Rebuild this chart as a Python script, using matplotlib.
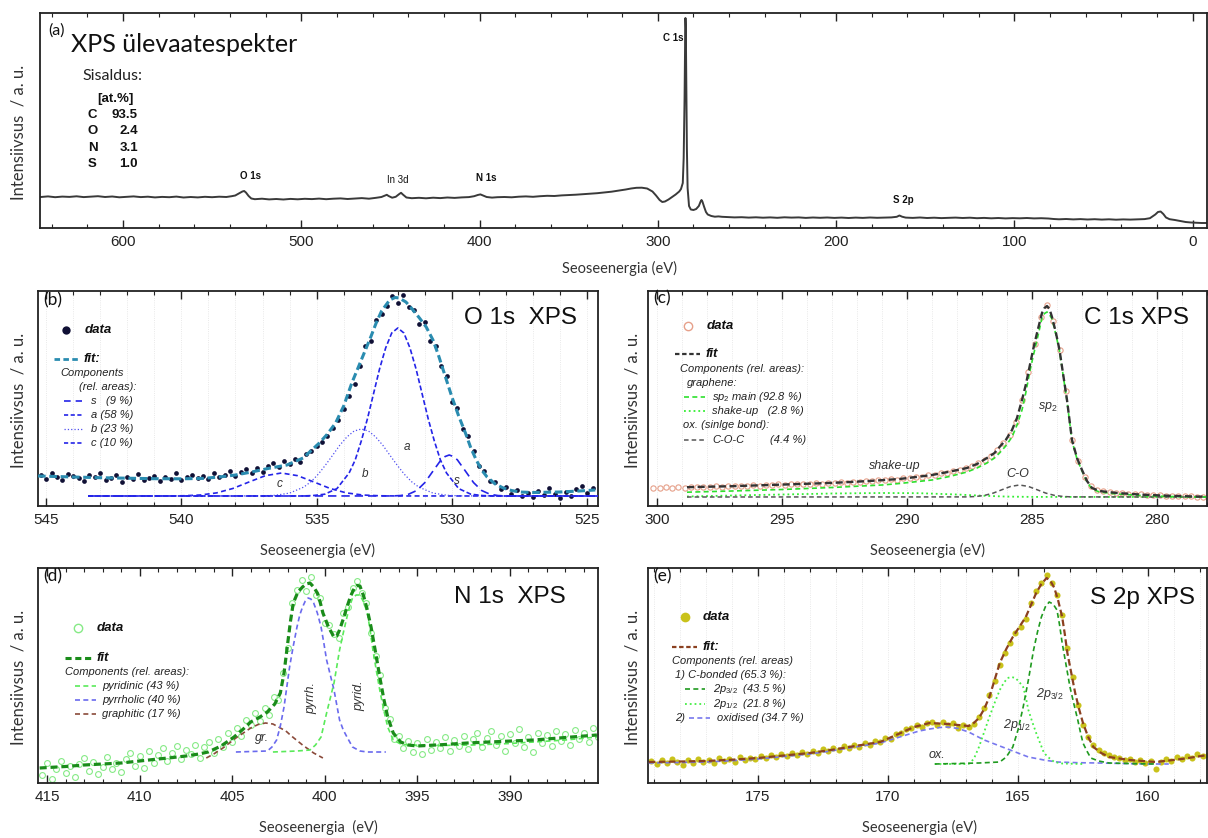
import numpy as np
import matplotlib
matplotlib.use('Agg')
import matplotlib.pyplot as plt
from matplotlib.lines import Line2D
from matplotlib.ticker import MultipleLocator

plt.rcParams['font.family'] = ['Liberation Sans', 'DejaVu Sans']
plt.rcParams['mathtext.fontset'] = 'custom'
plt.rcParams['mathtext.rm'] = 'Liberation Sans'
plt.rcParams['mathtext.it'] = 'Liberation Sans:italic'
plt.rcParams['mathtext.bf'] = 'Liberation Sans:bold'

# ---------------- DATA ----------------
# (a) survey spectrum
survey_be = [646, 642, 638, 634, 630, 626, 622, 618, 614, 610,
             606, 602, 598, 594, 590, 586, 582, 578, 574, 570,
             566, 562, 558, 554, 550, 546, 542, 539, 537, 535,
             533, 532, 531, 529.5, 528, 526, 522, 518, 514, 510,
             506, 502, 498, 494, 490, 486, 482, 478, 474, 470,
             466, 462, 458, 455, 453, 452, 451, 449, 447, 445,
             444, 443, 441, 438, 434, 430, 426, 422, 418, 414,
             410, 406, 403, 401, 399.5, 398, 396, 393, 390, 386,
             382, 378, 374, 370, 366, 362, 358, 354, 350, 346,
             342, 338, 334, 330, 326, 322, 318, 315, 312, 309,
             306, 303, 301, 299, 297.5, 296, 294, 292, 290, 288,
             287, 286, 285.5, 285, 284.7, 284.5, 284.3, 284.0, 283.7, 283.3,
             282.5, 281.5, 280, 278.5, 277, 276, 275.5, 275, 274, 273,
             272, 270, 268, 266, 264, 261, 257, 253, 249, 245,
             241, 237, 233, 229, 225, 221, 217, 213, 209, 205,
             201, 197, 193, 189, 185, 181, 177, 173, 169, 166,
             164.5, 163, 161, 157, 153, 149, 145, 141, 137, 133,
             129, 125, 121, 117, 113, 109, 105, 101, 97, 93,
             89, 85, 81, 78, 75, 71, 67, 63, 59, 55,
             51, 47, 43, 39, 35, 31, 27, 24, 21, 19.5,
             18, 16.5, 15, 13, 10, 7, 4, 1, -2, -5,
             -8]
survey_int = [31.0, 31.6, 30.8, 31.4, 31.1, 31.7, 30.9, 31.3, 31.8, 31.0,
              31.5, 30.7, 31.2, 31.6, 30.9, 31.3, 30.6, 31.1, 30.8, 31.4,
              30.5, 31.0, 30.6, 31.2, 30.8, 31.3, 31.0, 31.8, 32.5, 34.5,
              36.5, 37.0, 35.5, 32.0, 29.5, 28.8, 29.3, 28.6, 29.0, 28.5,
              29.1, 28.7, 29.2, 28.9, 29.4, 28.8, 29.3, 29.6, 29.0, 29.5,
              29.9, 29.3, 30.2, 31.0, 32.5, 33.2, 32.0, 30.3, 31.2, 34.0,
              35.2, 33.5, 30.5, 29.8, 30.2, 29.7, 30.3, 29.9, 30.5, 30.1,
              30.6, 30.9, 31.8, 33.0, 33.6, 32.5, 31.0, 30.4, 30.8, 31.0,
              30.7, 31.3, 31.6, 31.2, 31.8, 32.2, 32.0, 32.6, 32.9, 33.3,
              33.8, 34.2, 34.8, 35.5, 36.3, 37.4, 38.5, 39.5, 40.2, 40.3,
              39.5, 36.5, 32.5, 28.0, 26.0, 26.5, 28.5, 31.0, 33.5, 36.5,
              39.0, 45.0, 70, 130, 185, 210, 200, 140, 80, 40,
              22.0, 18.5, 18.0, 19.0, 22.0, 26.5, 28.0, 26.5, 21.0, 16.0,
              13.5, 12.0, 11.3, 11.6, 11.2, 10.9, 10.6, 10.8, 10.4, 10.7,
              10.3, 10.6, 10.2, 10.7, 10.4, 10.6, 10.1, 10.5, 10.2, 10.5,
              10.1, 10.4, 10.0, 10.4, 10.1, 10.5, 10.2, 10.4, 10.6, 11.2,
              12.5, 11.3, 10.4, 10.1, 10.5, 10.0, 10.3, 9.9, 10.2, 10.4,
              10.0, 10.3, 9.8, 10.1, 9.7, 10.0, 9.6, 9.9, 9.7, 10.0,
              9.6, 9.8, 9.5, 9.0, 8.7, 9.0, 8.6, 8.9, 8.5, 8.8,
              8.4, 8.7, 8.3, 8.6, 8.4, 8.7, 8.9, 9.8, 13.5, 16.0,
              16.5, 14.0, 10.5, 8.8, 8.0, 7.0, 6.0, 5.5, 5.2, 5.0,
              5.0]
survey_peak_labels = ["O 1s", "In 3d", "N 1s", "C 1s", "S 2p"]
composition_el = ["C", "O", "N", "S"]
composition_at = ["93.5", "2.4", "3.1", "1.0"]

# (b) O 1s
o1s_data_start, o1s_data_end = 545.2, 524.8
o1s_data = [31, 27, 33, 29, 26, 32, 30, 28, 25, 31,
            29, 33, 26, 28, 31, 24, 29, 27, 32, 26,
            28, 30, 25, 29, 27, 33, 26, 29, 31, 28,
            30, 27, 33, 29, 31, 35, 30, 34, 37, 33,
            38, 34, 40, 43, 39, 45, 42, 47, 44, 52,
            55, 60, 64, 70, 78, 86, 97, 110, 122, 140,
            160, 165, 186, 192, 200, 210, 203, 211, 199, 196,
            182, 184, 165, 160, 140, 130, 104, 98, 77, 70,
            55, 40, 35, 25, 24, 17, 19, 12, 16, 10,
            13, 9, 15, 11, 18, 12, 8, 14, 10, 17,
            20, 13, 18]
o1s_fit = [(545.3, 30), (544, 29), (543, 28.3), (542, 27.8), (541, 27.3), (540, 27.2), (539.2, 27.6),
           (538.6, 29), (538, 31), (537.4, 34), (536.8, 37.5), (536.1, 41), (535.5, 48), (534.9, 63),
           (534.6, 72), (534.3, 83), (534.0, 100), (533.7, 123), (533.35, 146), (533.0, 169), (532.8, 183),
           (532.6, 195), (532.3, 206), (532.1, 208.5), (531.95, 208), (531.7, 204), (531.5, 198),
           (531.2, 188), (530.95, 179), (530.7, 166), (530.5, 151), (530.25, 130), (530.0, 109),
           (529.75, 90), (529.5, 73), (529.3, 58), (529.1, 46), (528.9, 36), (528.7, 29), (528.4, 22),
           (528.1, 18), (527.8, 15.5), (527.5, 14), (527, 13.5), (526, 14), (525.3, 15), (524.7, 16)]
o1s_s = [(543.45, 10), (532.2, 10.05), (531.9, 10.45), (531.6, 11.8), (531.3, 15.5), (531.0, 23.4),
         (530.7, 34.9), (530.4, 46.2), (530.25, 49.5), (530.1, 51), (529.95, 49.5), (529.8, 46.2),
         (529.5, 34.9), (529.2, 23.4), (528.9, 15.5), (528.6, 11.8), (528.3, 10.45), (528.0, 10.05), (524.6, 10)]
o1s_a = [(543.45, 10), (535.6, 10), (535.15, 10.4), (534.7, 11.8), (534.25, 17.4), (533.8, 33),
         (533.575, 46), (533.35, 65), (533.125, 87), (532.9, 112), (532.675, 137), (532.45, 158),
         (532.225, 173), (532.0, 178), (531.775, 173), (531.55, 158), (531.325, 137), (531.1, 112),
         (530.875, 87), (530.65, 65), (530.425, 46), (530.2, 33), (529.75, 17.4), (529.3, 11.8),
         (528.85, 10.4), (528.4, 10), (524.6, 10)]
o1s_b = [(543.45, 10), (537.06, 10.1), (536.53, 10.7), (536.0, 12.9), (535.47, 19.0), (535.2, 24.5),
         (534.94, 31.8), (534.68, 40.7), (534.41, 50.7), (534.15, 60.6), (533.88, 69.1), (533.62, 74.9),
         (533.35, 77), (533.08, 74.9), (532.82, 69.1), (532.55, 60.6), (532.29, 50.7), (532.02, 40.7),
         (531.76, 31.8), (531.5, 24.5), (531.23, 19.0), (530.7, 12.9), (530.17, 10.7), (529.64, 10.1), (524.6, 10)]
o1s_c = [(543.45, 10), (540.5, 10.05), (539.9, 10.25), (539.3, 11.0), (538.7, 13.1), (538.1, 17.5),
         (537.5, 24.0), (536.9, 30.3), (536.3, 33.0), (535.7, 30.3), (535.1, 24.0), (534.5, 17.5),
         (533.9, 13.1), (533.3, 11.0), (532.7, 10.25), (532.1, 10.05), (524.6, 10)]

# (c) C 1s
c1s_data_start, c1s_data_end = 300.15, 278.15
c1s_data = [18.4, 17.8, 18.5, 18.0, 18.9, 18.3, 19.1, 18.6, 19.4, 18.8,
            19.6, 19.2, 20.0, 19.5, 20.4, 19.9, 20.8, 20.3, 21.2, 20.7,
            21.6, 21.1, 22.0, 21.5, 22.4, 21.9, 22.8, 22.3, 23.3, 22.8,
            23.8, 23.4, 24.4, 24.0, 25.0, 24.7, 25.8, 25.5, 26.6, 26.4,
            27.6, 27.6, 29.0, 29.2, 30.6, 30.9, 32.6, 33.2, 35.0, 36.2,
            38, 40, 42.5, 46, 50, 56, 63, 71, 84, 106,
            134, 162, 189, 201, 185, 156, 115, 66, 45, 29,
            20, 16, 14.5, 13.7, 13, 12.6, 12.2, 11.8, 11.5, 11.2,
            10.9, 10.6, 10.4, 10.1, 9.9, 9.7, 9.5, 9.4, 9.3]
c1s_fit = [(298.8, 18.8), (297, 19.8), (295, 21.4), (293, 23.1), (291.5, 25), (290.3, 27), (289.5, 29.4),
           (289.0, 31), (288.3, 34.3), (287.6, 38), (287.2, 42), (286.8, 48), (286.5, 53), (286.3, 59),
           (286.05, 66), (285.8, 76), (285.6, 88), (285.4, 106), (285.25, 121), (285.1, 139), (284.95, 157),
           (284.8, 173), (284.7, 183), (284.6, 193), (284.5, 198), (284.4, 200), (284.3, 197), (284.2, 189),
           (284.05, 174), (283.9, 156), (283.75, 131), (283.6, 106), (283.5, 86), (283.4, 66), (283.2, 48),
           (283.0, 36), (282.8, 25), (282.6, 18), (282.3, 15), (281.6, 13), (280.5, 11.2), (279.5, 10.2), (278.0, 9.2)]
c1s_sp2 = [(298.8, 13.8), (297, 15), (295, 16.5), (293, 18.5), (291, 21), (290.3, 22.5), (289.0, 26),
           (288.3, 29.5), (287.6, 34), (287.2, 38), (286.8, 43), (286.5, 48), (286.3, 53), (286.05, 60),
           (285.8, 69), (285.6, 81), (285.4, 96), (285.25, 113), (285.1, 133), (284.95, 150), (284.8, 166),
           (284.7, 177), (284.6, 188), (284.5, 192.5), (284.4, 194), (284.3, 191.5), (284.2, 187), (284.05, 172),
           (283.9, 155), (283.75, 130), (283.6, 105), (283.5, 85), (283.4, 65), (283.2, 47), (283.0, 35),
           (282.8, 24), (282.6, 17), (282.3, 14), (281.6, 12), (280.5, 10.3), (279.5, 9.5), (278.0, 9.0)]
c1s_shake = [(298.8, 9.5), (297, 10.5), (295, 11.5), (293, 12.5), (291, 13), (289.5, 12.8), (288, 11.5),
             (287, 10.3), (286, 9.4), (285, 9.1), (278, 9)]
c1s_coc = [(298.8, 9), (287.6, 9.1), (287.25, 9.5), (286.9, 10.6), (286.55, 12.9), (286.2, 16.3),
           (285.85, 19.6), (285.5, 21), (285.15, 19.6), (284.8, 16.3), (284.45, 12.9), (284.1, 10.6),
           (283.75, 9.5), (283.4, 9.1), (278, 9)]

# (d) N 1s
n1s_data_start, n1s_data_end = 415.25, 385.25
n1s_data = [8, 20, 4, 14, 22, 10, 17, 6, 19, 25,
            12, 21, 9, 16, 26, 14, 20, 11, 24, 30,
            17, 27, 15, 32, 20, 28, 35, 22, 30, 37,
            24, 33, 29, 38, 25, 36, 41, 30, 44, 36,
            50, 41, 55, 47, 63, 58, 70, 62, 75, 68,
            86, 83, 110, 135, 180, 193, 203, 192, 206, 188,
            185, 160, 158, 149, 145, 170, 176, 195, 202, 190,
            180, 150, 127, 108, 75, 64, 44, 47, 35, 42,
            31, 40, 29, 44, 33, 41, 35, 46, 32, 43,
            37, 47, 34, 44, 50, 36, 45, 52, 38, 47,
            32, 49, 40, 54, 36, 46, 31, 50, 40, 48,
            37, 52, 42, 49, 38, 53, 44, 50, 41, 55,
            46]
n1s_fit = [(415.4, 15), (414, 16.5), (413, 18), (412, 19), (411, 20), (410, 22), (409, 24), (408.2, 25.5),
           (407.5, 27), (406.8, 29), (406.3, 31), (405.6, 37), (404.9, 46), (404.4, 54), (404.0, 61),
           (403.5, 66), (403.1, 71), (402.7, 79), (402.4, 90), (402.2, 110), (402.0, 140), (401.85, 162),
           (401.7, 180), (401.45, 191), (401.2, 196), (401.0, 199), (400.8, 200), (400.6, 196), (400.4, 190),
           (400.25, 181), (400.1, 170), (399.8, 156), (399.5, 146), (399.35, 147), (399.2, 153), (399.0, 164),
           (398.8, 176), (398.6, 187), (398.4, 195), (398.25, 197.5), (398.1, 197), (397.9, 187), (397.7, 173),
           (397.5, 156), (397.25, 130), (397.0, 103), (396.8, 83), (396.6, 66), (396.3, 50), (395.9, 41),
           (395.5, 38), (395.0, 37), (393.5, 38.5), (392.3, 40), (390.5, 41.5), (388.7, 43), (387, 45.5), (385.3, 48)]
n1s_pyridinic = [(402.8, 31), (401.5, 32), (400.8, 33), (400.5, 38), (400.2, 46), (399.9, 70), (399.7, 85),
                 (399.5, 100), (399.2, 133), (399.0, 150), (398.8, 166), (398.65, 177), (398.5, 185),
                 (398.3, 188), (398.1, 188), (397.9, 181), (397.7, 170), (397.55, 153), (397.4, 133),
                 (397.2, 111), (397.0, 90), (396.8, 72), (396.6, 56), (396.3, 43), (395.9, 39), (395.5, 38),
                 (394, 37.5), (392, 38), (390, 39.5), (388.7, 41), (387, 43), (385.3, 46)]
n1s_pyrrolic = [(404.8, 31), (403.1, 32), (402.85, 36), (402.6, 43), (402.4, 57), (402.2, 76), (402.05, 96),
                (401.9, 116), (401.7, 137), (401.5, 156), (401.35, 168), (401.2, 176), (401.05, 182),
                (400.9, 185), (400.75, 184), (400.6, 180), (400.4, 170), (400.2, 156), (400.05, 140),
                (399.9, 123), (399.7, 108), (399.5, 93), (399.35, 78), (399.2, 63), (399.0, 53), (398.8, 46),
                (398.5, 36), (398.1, 32), (397.7, 31), (396.7, 31)]
n1s_graphitic = [(406.4, 25), (406.0, 29), (405.5, 35), (404.8, 45), (404.4, 50), (404.0, 55), (403.6, 58.5),
                 (403.2, 60), (402.8, 59), (402.5, 56), (402.1, 52), (401.8, 47), (401.5, 42.5), (401.2, 38),
                 (400.9, 34), (400.6, 30), (400.1, 25)]

# (e) S 2p
s2p_data_start, s2p_data_end = 179.1, 157.7
s2p_data = [22, 19, 23, 20, 24, 21, 18, 23, 20, 24,
            21, 23, 20, 25, 22, 24, 21, 26, 23, 25,
            24, 27, 25, 28, 26, 29, 27, 30, 28, 31,
            29, 32, 30, 34, 32, 35, 33, 37, 35, 38,
            36, 40, 38, 42, 41, 45, 44, 49, 50, 54,
            55, 58, 56, 60, 61, 58, 61, 58, 60, 55,
            58, 56, 59, 66, 75, 88, 102, 118, 130, 140,
            150, 156, 164, 180, 192, 200, 208, 200, 188, 168,
            135, 106, 78, 58, 46, 38, 33, 30, 28, 26,
            25, 23, 24, 21, 23, 20, 22, 14, 21, 24,
            22, 26, 24, 27, 25, 29, 27, 28]
s2p_fit = [(179.2, 21), (178, 21.5), (177, 22), (176, 23.3), (175, 25), (174, 27.5), (173, 30), (172.2, 33),
           (171.5, 36), (170.9, 38.5), (170.3, 41), (169.6, 49), (169.0, 56), (168.4, 60), (167.7, 59),
           (167.3, 58), (166.9, 57), (166.7, 60), (166.5, 65), (166.3, 74), (166.1, 86), (165.9, 103),
           (165.7, 120), (165.45, 134), (165.2, 146), (164.95, 156), (164.7, 166), (164.5, 178), (164.3, 190),
           (164.1, 199), (163.9, 205), (163.75, 202), (163.6, 195), (163.45, 182), (163.3, 166), (163.2, 149),
           (163.1, 130), (162.95, 110), (162.8, 90), (162.65, 74), (162.5, 60), (162.3, 46), (162.1, 36),
           (161.8, 30), (161.5, 26), (160.7, 23), (159.7, 21), (158.7, 24), (157.7, 28)]
s2p_32 = [(168.2, 19), (166.5, 20), (165.7, 21), (165.45, 26), (165.2, 36), (165.0, 53), (164.8, 76),
          (164.6, 103), (164.4, 133), (164.25, 151), (164.1, 166), (163.95, 176), (163.8, 181), (163.65, 179),
          (163.5, 173), (163.4, 158), (163.3, 140), (163.15, 118), (163.0, 96), (162.85, 79), (162.7, 63),
          (162.6, 51), (162.5, 40), (162.35, 32), (162.2, 25), (161.9, 22), (161.5, 20), (160.5, 19.3), (159.7, 19)]
s2p_12 = [(168.2, 19), (166.9, 19), (166.7, 24), (166.5, 36), (166.3, 51), (166.1, 66), (165.9, 80),
          (165.7, 93), (165.55, 100), (165.4, 105), (165.25, 106), (165.1, 105), (164.95, 101), (164.8, 96),
          (164.7, 86), (164.6, 73), (164.45, 61), (164.3, 50), (164.15, 40), (164.0, 30), (163.8, 25),
          (163.6, 21), (163.3, 19.5), (162.5, 19)]
s2p_ox = [(179.2, 20), (178, 20.5), (177, 21), (176, 22.3), (175, 24), (174, 26.5), (173, 29), (172.2, 32),
          (171.5, 35), (170.9, 37.5), (170.3, 40), (169.8, 44), (169.3, 48), (168.8, 52), (168.4, 54),
          (168.0, 55.5), (167.7, 56), (167.3, 54.5), (166.9, 51), (166.6, 47), (166.3, 43), (165.9, 39),
          (165.5, 35), (165.0, 30), (164.6, 26), (164.0, 23), (163.5, 21), (162.7, 20.3), (161.9, 20),
          (160, 19), (159.2, 19)]

# ---------------- FIGURE ----------------
W, H = 1208, 838
fig = plt.figure(figsize=(W / 100, H / 100), dpi=100)
TXT = '#222222'


def rect(l, t, r, b):
    return [l / W, 1 - b / H, (r - l) / W, (b - t) / H]


def fx(x):
    return x / W


def fy(y):
    return 1 - y / H


def txt(x, y, s, **kw):
    kw.setdefault('ha', 'left')
    kw.setdefault('va', 'center')
    kw.setdefault('color', TXT)
    fig.text(fx(x), fy(y), s, **kw)


def seg(x0, x1, y, **kw):
    fig.add_artist(Line2D([fx(x0), fx(x1)], [fy(y), fy(y)], transform=fig.transFigure, **kw))


def mark(x, y, **kw):
    fig.add_artist(Line2D([fx(x)], [fy(y)], transform=fig.transFigure, ls='none', marker='o', **kw))


def setup(ax, xlim, major, minor, grid=False):
    ax.set_xlim(*xlim)
    ax.set_ylim(0, 215)
    ax.xaxis.set_major_locator(MultipleLocator(major))
    ax.xaxis.set_minor_locator(MultipleLocator(minor))
    ax.tick_params(axis='x', which='both', direction='in', top=True, bottom=True,
                   labelsize=11, pad=5, colors='#222222')
    ax.tick_params(axis='x', which='major', length=6, width=1)
    ax.tick_params(axis='x', which='minor', length=3, width=0.8)
    ax.tick_params(axis='y', left=False, labelleft=False)
    for s in ax.spines.values():
        s.set_linewidth(1.3)
        s.set_color('#222222')
    if grid:
        ax.grid(True, axis='x', which='both', color='#e2e2e2', lw=0.6, ls=':')
        ax.set_axisbelow(True)


def curve(ax, pts, **kw):
    a = np.array(pts, dtype=float)
    ax.plot(a[:, 0], a[:, 1], **kw)


def xlabel(x, y, s):
    txt(x, y, s, ha='center', family='Lato', fontsize=10.5, color='#333333')


def ylabel(x, y):
    txt(x, y, 'Intensiivsus  / a. u.', ha='center', rotation=90, family='Lato', fontsize=12,
        color='#333333')


# ---- (a) survey ----
axa = fig.add_axes(rect(40, 13, 1207, 228))
setup(axa, (646.5, -8), 100, 20)
axa.plot(survey_be, survey_int, color='#3a3a3a', lw=1.4)
lab_pos = [(250, 176), (398, 180), (486, 178), (673, 38), (903, 200)]
for name, (x, y) in zip(survey_peak_labels, lab_pos):
    txt(x, y, name, ha='center', fontsize=7, fontweight='normal' if name == 'In 3d' else 'bold',
        color='#111111')
txt(48, 31, '(a)', family='Lato', fontsize=11.5, color='#111111')
txt(71, 44, 'XPS ülevaatespekter', family='Lato', fontsize=18, color='#111111')
txt(82, 76, 'Sisaldus:', family='Lato', fontsize=11.5, color='#222222')
txt(97, 99, '[at.%]', fontsize=9.5, fontweight='bold', color='#111111')
for i, (el, val) in enumerate(zip(composition_el, composition_at)):
    yy = 115 + i * 16.3
    txt(88, yy, el, fontsize=9.5, fontweight='bold', color='#111111')
    txt(138, yy, val, ha='right', fontsize=9.5, fontweight='bold', color='#111111')
xlabel(620, 268, 'Seoseenergia (eV)')
ylabel(19, 132)

# ---- (b) O 1s ----
axb = fig.add_axes(rect(38, 291, 598, 506))
setup(axb, (545.3, 524.6), 5, 1, grid=True)
be_b = np.linspace(o1s_data_start, o1s_data_end, len(o1s_data))
axb.plot(be_b, o1s_data, 'o', ms=3.4, color='#101035', mec='none', zorder=2)
BLUE = '#2424e8'
curve(axb, o1s_c, color=BLUE, lw=1.2, dashes=(3, 2), zorder=3)
curve(axb, o1s_b, color='#5050f0', lw=0.9, ls=':', zorder=3)
curve(axb, o1s_a, color=BLUE, lw=1.2, dashes=(3, 1.5), zorder=3)
curve(axb, o1s_s, color=BLUE, lw=1.2, dashes=(5, 3), zorder=3)
curve(axb, o1s_fit, color='#2a8cb0', lw=2.2, dashes=(2.5, 1.2), zorder=4)
txt(520, 318, 'O 1s  XPS', ha='center', fontsize=17.5, color='#111111')
txt(43, 300, '(b)', family='Lato', fontsize=12.5, color='#111111')
for s, (x, y) in zip(['c', 'b', 'a', 's'], [(280, 484), (365, 474), (407, 447), (457, 481)]):
    txt(x, y, s, ha='center', fontsize=8.5, style='italic', color='#333333')
mark(66, 330, color='#101035', ms=6, mec='none')
txt(85, 330, 'data', fontsize=9.5, fontweight='bold', style='italic', color='#111111')
seg(54, 79, 359, color='#2a8cb0', lw=2, dashes=(2, 1.2))
txt(84, 359, 'fit:', fontsize=9.5, fontweight='bold', style='italic', color='#111111')
txt(60, 373, 'Components', fontsize=8, style='italic')
txt(79, 387, '(rel. areas):', fontsize=8, style='italic')
seg(64, 82, 401, color=BLUE, lw=1.2, dashes=(4, 3))
txt(91, 401, 's   (9 %)', fontsize=8, style='italic')
seg(64, 82, 415, color=BLUE, lw=1.2, dashes=(2.5, 1.5))
txt(91, 415, 'a (58 %)', fontsize=8, style='italic')
seg(64, 82, 429, color='#5050f0', lw=0.9, ls=':')
txt(91, 429, 'b (23 %)', fontsize=8, style='italic')
seg(64, 82, 443, color=BLUE, lw=1.2, dashes=(2.5, 1.5))
txt(91, 443, 'c (10 %)', fontsize=8, style='italic')
xlabel(318, 550, 'Seoseenergia (eV)')
ylabel(19, 400)

# ---- (c) C 1s ----
axc = fig.add_axes(rect(648, 291, 1207, 506))
setup(axc, (300.36, 278.0), 5, 1, grid=True)
be_c = np.linspace(c1s_data_start, c1s_data_end, len(c1s_data))
axc.plot(be_c, c1s_data, 'o', ms=3.8, mfc='none', mec='#e6a08a', mew=0.8, zorder=2)
curve(axc, c1s_shake, color='#33ee33', lw=1.3, ls=':', zorder=3)
curve(axc, c1s_coc, color='#555555', lw=1.1, dashes=(3, 2), zorder=3)
curve(axc, c1s_sp2, color='#2ee02e', lw=1.2, dashes=(3, 2), zorder=3)
curve(axc, c1s_fit, color='#333333', lw=1.7, dashes=(3, 1.5), zorder=4)
txt(1136, 318, 'C 1s XPS', ha='center', fontsize=17.5, color='#111111')
txt(653, 298, '(c)', family='Lato', fontsize=12.5, color='#111111')
txt(895, 466, 'shake-up', ha='center', fontsize=9, style='italic', color='#333333')
txt(1018, 474, 'C-O', ha='center', fontsize=9, style='italic', color='#333333')
txt(1048, 407, 'sp$_2$', ha='center', fontsize=9, style='italic', color='#333333')
mark(688, 326, ms=6, mfc='none', mec='#e6a08a', mew=1)
txt(707, 326, 'data', fontsize=9.5, fontweight='bold', style='italic', color='#111111')
seg(675, 700, 354, color='#333333', lw=1.6, dashes=(2, 1.2))
txt(706, 354, 'fit', fontsize=9.5, fontweight='bold', style='italic', color='#111111')
txt(680, 369, 'Components (rel. areas):', fontsize=8, style='italic')
txt(687, 383, 'graphene:', fontsize=8, style='italic')
seg(684, 705, 397, color='#2ee02e', lw=1.2, dashes=(3, 2))
txt(712, 397, 'sp$_2$ main (92.8 %)', fontsize=8, style='italic')
seg(684, 705, 411, color='#33ee33', lw=1.3, ls=':')
txt(712, 411, 'shake-up   (2.8 %)', fontsize=8, style='italic')
txt(683, 425, 'ox. (sinlge bond):', fontsize=8, style='italic')
seg(684, 705, 440, color='#555555', lw=1.1, dashes=(3, 2))
txt(712, 440, 'C-O-C', fontsize=8, style='italic')
txt(770, 440, '(4.4 %)', fontsize=8, style='italic')
xlabel(928, 550, 'Seoseenergia (eV)')
ylabel(633, 400)

# ---- (d) N 1s ----
axd = fig.add_axes(rect(38, 568, 598, 783))
setup(axd, (415.49, 385.24), 5, 1)
be_d = np.linspace(n1s_data_start, n1s_data_end, len(n1s_data))
axd.plot(be_d, n1s_data, 'o', ms=4.2, mfc='none', mec='#86ea86', mew=0.8, zorder=2)
curve(axd, n1s_graphitic, color='#8a4a3a', lw=1.2, dashes=(3, 2), zorder=3)
curve(axd, n1s_pyrrolic, color='#6a6aee', lw=1.2, dashes=(3, 2), zorder=3)
curve(axd, n1s_pyridinic, color='#5aea5a', lw=1.2, dashes=(3, 2), zorder=3)
curve(axd, n1s_fit, color='#1a8c1a', lw=2.3, dashes=(2.2, 1.2), zorder=4)
txt(510, 597, 'N 1s  XPS', ha='center', fontsize=17.5, color='#111111')
txt(43, 576, '(d)', family='Lato', fontsize=12.5, color='#111111')
txt(262, 738, 'gr.', ha='center', fontsize=9, style='italic', color='#333333')
txt(311, 698, 'pyrrh.', ha='center', rotation=90, fontsize=9, style='italic', color='#333333')
txt(359, 696, 'pyrid.', ha='center', rotation=90, fontsize=9, style='italic', color='#333333')
mark(78, 628, ms=6, mfc='none', mec='#86ea86', mew=1)
txt(97, 628, 'data', fontsize=9.5, fontweight='bold', style='italic', color='#111111')
seg(65, 92, 658, color='#1a8c1a', lw=2.2, dashes=(2, 1.2))
txt(97, 658, 'fit', fontsize=9.5, fontweight='bold', style='italic', color='#111111')
txt(65, 672, 'Components (rel. areas):', fontsize=8, style='italic')
seg(75, 96, 686, color='#5aea5a', lw=1.2, dashes=(3, 2))
txt(102, 686, 'pyridinic (43 %)', fontsize=8, style='italic')
seg(75, 96, 700, color='#6a6aee', lw=1.2, dashes=(3, 2))
txt(102, 700, 'pyrrholic (40 %)', fontsize=8, style='italic')
seg(75, 96, 714, color='#8a4a3a', lw=1.2, dashes=(3, 2))
txt(102, 714, 'graphitic (17 %)', fontsize=8, style='italic')
xlabel(318, 827, 'Seoseenergia  (eV)')
ylabel(19, 677)

# ---- (e) S 2p ----
axe = fig.add_axes(rect(648, 568, 1207, 783))
setup(axe, (179.23, 157.73), 5, 1, grid=True)
be_e = np.linspace(s2p_data_start, s2p_data_end, len(s2p_data))
axe.plot(be_e, s2p_data, 'o', ms=4.4, color='#c9c21a', mec='none', zorder=2)
curve(axe, s2p_ox, color='#7878ee', lw=1.2, dashes=(3, 2), zorder=3)
curve(axe, s2p_12, color='#44ee44', lw=1.3, ls=':', zorder=3)
curve(axe, s2p_32, color='#1f9a1f', lw=1.2, dashes=(3, 2), zorder=3)
curve(axe, s2p_fit, color='#8b4020', lw=1.6, dashes=(3, 1.5), zorder=4)
txt(1143, 598, 'S 2p XPS', ha='center', fontsize=17.5, color='#111111')
txt(653, 576, '(e)', family='Lato', fontsize=12.5, color='#111111')
txt(937, 755, 'ox.', ha='center', fontsize=9, style='italic', color='#333333')
txt(1017, 725, '2p$_{1/2}$', ha='center', fontsize=9, style='italic', color='#333333')
txt(1050, 694, '2p$_{3/2}$', ha='center', fontsize=9, style='italic', color='#333333')
mark(685, 617, ms=7, color='#c9c21a', mec='none')
txt(703, 617, 'data', fontsize=9.5, fontweight='bold', style='italic', color='#111111')
seg(672, 697, 647, color='#8b4020', lw=1.6, dashes=(2, 1.2))
txt(703, 647, 'fit:', fontsize=9.5, fontweight='bold', style='italic', color='#111111')
txt(672, 661, 'Components (rel. areas)', fontsize=8, style='italic')
txt(675, 675, '1) C-bonded (65.3 %):', fontsize=8, style='italic')
seg(685, 705, 689, color='#1f9a1f', lw=1.2, dashes=(3, 2))
txt(713, 689, '2p$_{3/2}$  (43.5 %)', fontsize=8, style='italic')
seg(685, 705, 704, color='#44ee44', lw=1.3, ls=':')
txt(713, 704, '2p$_{1/2}$  (21.8 %)', fontsize=8, style='italic')
txt(675, 718, '2)', fontsize=8, style='italic')
seg(689, 710, 718, color='#7878ee', lw=1.2, dashes=(3, 2))
txt(717, 718, 'oxidised (34.7 %)', fontsize=8, style='italic')
xlabel(920, 827, 'Seoseenergia (eV)')
ylabel(633, 677)

fig.savefig('out.png', dpi=100)
